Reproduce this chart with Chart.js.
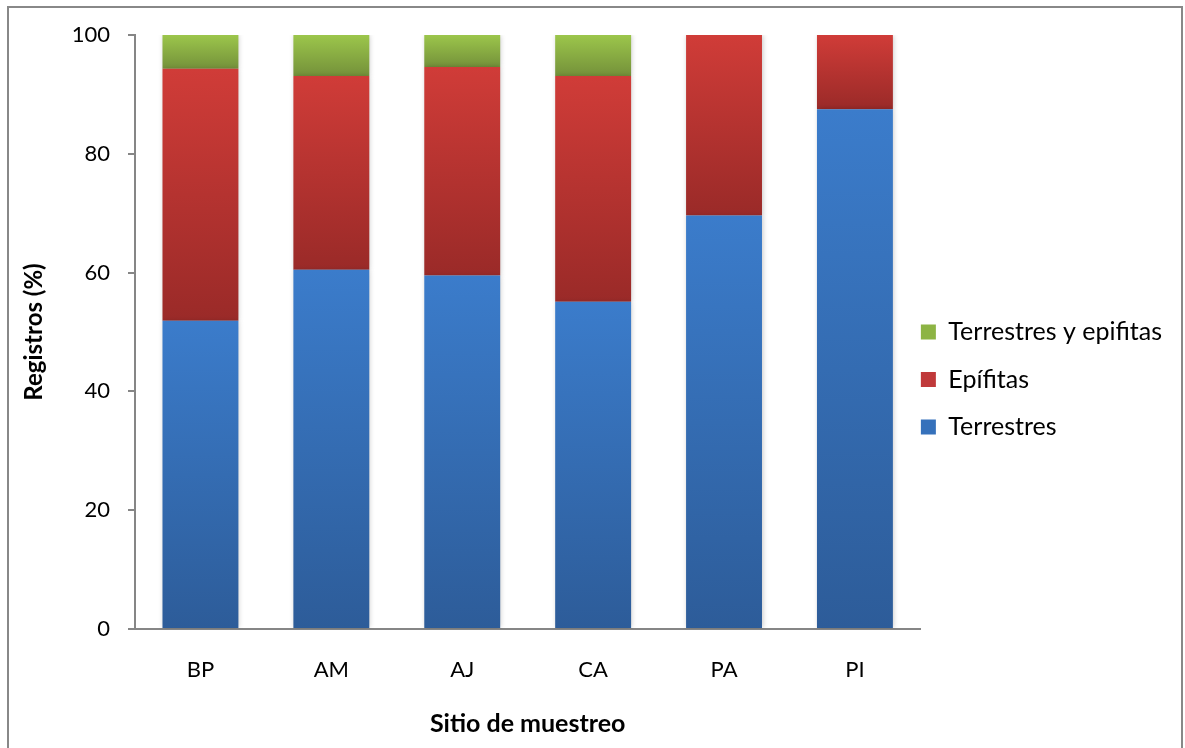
<!DOCTYPE html>
<html>
<head>
<meta charset="utf-8">
<script src="https://cdn.jsdelivr.net/npm/chart.js@4"></script>
<style>
  html, body { margin: 0; padding: 0; background: #fff; overflow: hidden; }
  #wrap { position: relative; width: 1185px; height: 748px; }
  #frame { position: absolute; left: 7px; top: 6px; width: 1176px; height: 800px; border: 2px solid #888; box-sizing: border-box; pointer-events: none; }
  canvas { position: absolute; left: 0; top: 0; }
</style>
</head>
<body>
<div id="wrap">
  <canvas id="chart" width="1185" height="748"></canvas>
  <div id="frame"></div>
</div>
<script>
const categories = ['BP', 'AM', 'AJ', 'CA', 'PA', 'PI'];
const terrestres = [51.9, 60.5, 59.5, 55.1, 69.6, 87.5];
const epifitas = [42.4, 32.6, 35.1, 38.0, 30.4, 12.5];
const terrYEpi = [5.7, 6.9, 5.4, 6.9, 0, 0];
const yTicks = [0, 20, 40, 60, 80, 100];

const FONT = 'Lato, "Open Sans", sans-serif';
const AXIS_GREY = '#868686';

/* ===== per-segment vertical gradients (light top, dark bottom) ===== */
const SERIES = [
  { label: 'Terrestres', data: terrestres, top: '#3b7ccb', bottom: '#2d5c99', solid: '#3571bb' },
  { label: 'Epífitas', data: epifitas, top: '#d03c38', bottom: '#9a2a28', solid: '#c0393a' },
  { label: 'Terrestres y epifitas', data: terrYEpi, top: '#9cc64b', bottom: '#74913a', solid: '#8db444' },
];

function segmentFill(si) {
  const s = SERIES[si];
  return ctx => {
    const chart = ctx.chart;
    if (!chart.chartArea || ctx.type !== 'data' || !chart.scales.y) return s.solid;
    const i = ctx.dataIndex;
    let base = 0;
    for (let k = 0; k < si; k++) base += SERIES[k].data[i];
    const top = base + s.data[i];
    const y = chart.scales.y;
    const y0 = y.getPixelForValue(top), y1 = y.getPixelForValue(base);
    if (!(y1 > y0)) return s.solid;
    const g = chart.ctx.createLinearGradient(0, y0, 0, y1);
    g.addColorStop(0, s.top);
    g.addColorStop(1, s.bottom);
    return g;
  };
}

const barShadow = {
  id: 'barShadow',
  beforeDatasetsDraw(chart) {
    const c = chart.ctx;
    c.save();
    c.shadowColor = 'rgba(0,0,0,0.22)';
    c.shadowBlur = 5;
    c.shadowOffsetX = 1;
    c.shadowOffsetY = 0;
  },
  afterDatasetsDraw(chart) { chart.ctx.restore(); }
};

// nudge the legend block a bit closer to the plot, like the original
const legendNudge = {
  id: 'legendNudge',
  afterLayout(chart) {
    if (!chart.legend) return;
    chart.legend.left -= 22;
    chart.legend.right -= 22;
  }
};

const ctx = document.getElementById('chart').getContext('2d');
new Chart(ctx, {
  type: 'bar',
  data: {
    labels: categories,
    datasets: SERIES.map((s, si) => ({
      label: s.label,
      data: s.data,
      backgroundColor: segmentFill(si),
      borderWidth: 0,
      categoryPercentage: 1,
      barPercentage: 0.58,
    }))
  },
  options: {
    responsive: false,
    animation: false,
    layout: { padding: { top: 35, right: -9, bottom: 0, left: 0 } },
    scales: {
      x: {
        stacked: true,
        grid: { display: true, drawOnChartArea: false, drawTicks: false },
        border: { display: true, color: AXIS_GREY, width: 2 },
        ticks: { color: '#000', padding: 28, font: { family: FONT, size: 22 } },
        title: { display: true, text: 'Sitio de muestreo', color: '#000', padding: { top: 0, bottom: 9 }, font: { family: FONT, size: 25, weight: 'bold' } },
        afterFit: scale => { scale.height = 119; }
      },
      y: {
        stacked: true,
        min: 0, max: 100,
        afterBuildTicks: scale => { scale.ticks = yTicks.map(v => ({ value: v })); },
        grid: { display: true, drawOnChartArea: false, drawTicks: true, tickLength: 7, color: AXIS_GREY, lineWidth: 2 },
        border: { display: true, color: AXIS_GREY, width: 2 },
        ticks: { color: '#000', padding: 18, font: { family: FONT, size: 22 } },
        title: { display: true, text: 'Registros (%)', color: '#000', padding: { top: 20, bottom: 0 }, font: { family: FONT, size: 24, weight: 'bold' } },
        afterFit: scale => { scale.width = 135; }
      }
    },
    plugins: {
      tooltip: { enabled: false },
      legend: {
        position: 'right',
        align: 'start',
        reverse: true,
        title: { display: true, text: ' ', font: { size: 10 }, padding: { top: 0, bottom: 250 } },
        labels: {
          boxWidth: 15, boxHeight: 15, padding: 22.5,
          color: '#000',
          font: { family: FONT, size: 25 },
          generateLabels: chart => SERIES.map((s, si) => ({
            text: s.label, fillStyle: s.solid, strokeStyle: s.solid, lineWidth: 0,
            hidden: false, datasetIndex: si, fontColor: '#000'
          }))
        }
      }
    }
  },
  plugins: [barShadow, legendNudge]
});
</script>
</body>
</html>
